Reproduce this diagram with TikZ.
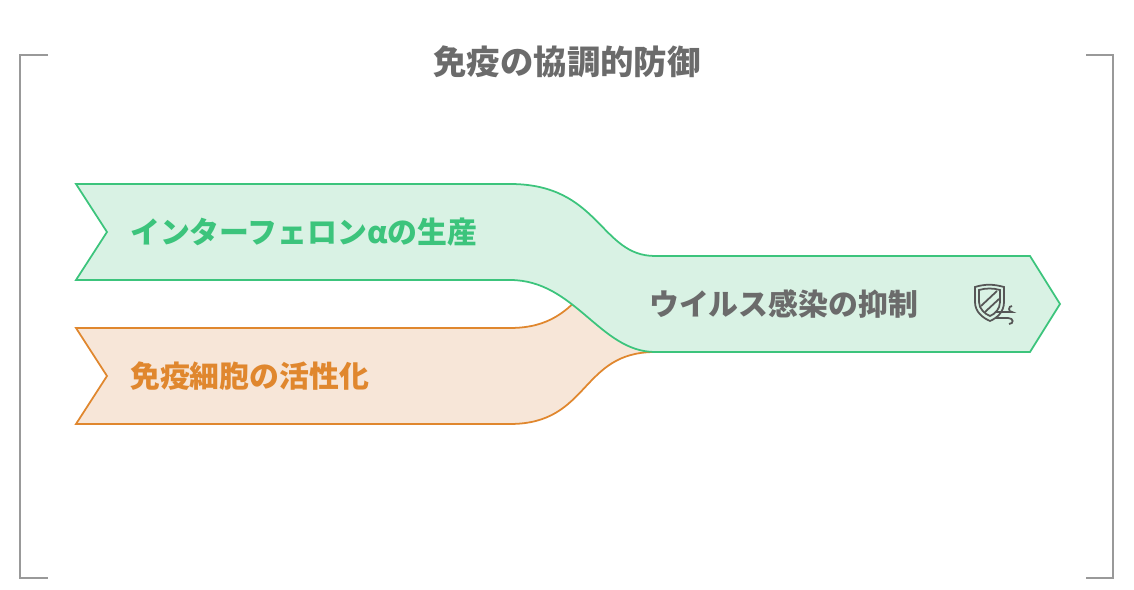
\documentclass[tikz,border=0pt]{standalone}
\usepackage{fontspec}
\setmainfont{Noto Sans CJK JP}
\definecolor{gline}{HTML}{3CC47C}
\definecolor{gfill}{HTML}{D9F2E4}
\definecolor{oline}{HTML}{E0872E}
\definecolor{ofill}{HTML}{F7E6D8}
\definecolor{txt}{HTML}{6B6B6B}
\begin{document}
\begin{tikzpicture}[x=0.02cm,y=-0.02cm,
  lbl/.style={font=\fontsize{17}{20}\selectfont\bfseries,anchor=west},
  frame/.style={draw=gray!80,line width=0.6pt}]
\useasboundingbox (0,0) rectangle (1134,590);
\draw[frame] (48,55)--(20,55)--(20,578)--(48,578);
\draw[frame] (1086,55)--(1113,55)--(1113,578)--(1086,578);
\node[font=\fontsize{19}{22}\selectfont\bfseries,text=txt] (title) at (567,62) {免疫の協調的防御};
% orange
\draw[draw=oline,fill=ofill,line width=1pt] (76,328)--(510,328) .. controls (590,328) and (580,256) .. (655,256)
  --(655,352) .. controls (580,352) and (590,424) .. (510,424) --(76,424)--(107,376)--cycle;
% green
\draw[draw=gline,fill=gfill,line width=1pt] (76,184)--(510,184) .. controls (600,184) and (600,256) .. (655,256)
  --(1030,256)--(1060,304)--(1030,352)--(655,352) .. controls (600,352) and (575,280) .. (510,280)--(76,280)--(107,232)--cycle;
\node[lbl,text=gline] (a) at (124,232) {インターフェロンαの生産};
\node[lbl,text=oline] (b) at (124,376) {免疫細胞の活性化};
\node[lbl,text=txt] (c) at (643,304) {ウイルス感染の抑制};
% icon
\begin{scope}[draw=txt!80!black,line width=1pt]
\draw (975,287) .. controls (985,284) and (993,284) .. (1004,287) -- (1004,302) .. controls (1004,312) and (997,318) .. (990,321) .. controls (983,318) and (975,312) .. (975,302) -- cycle;
\draw (979,290) .. controls (986,288) and (993,288) .. (1000,290) -- (1000,302) .. controls (1000,309) and (995,314) .. (990,316) .. controls (985,314) and (979,309) .. (979,302) -- cycle;
\draw (981,306)--(997,291);
\draw (985,312)--(999,299);
\draw (996,312)--(1012,312) arc (-90:90:-3) ;
\draw (996,318)--(1008,318) .. controls (1014,318) and (1014,324) .. (1009,324);
\end{scope}
\end{tikzpicture}
\end{document}
